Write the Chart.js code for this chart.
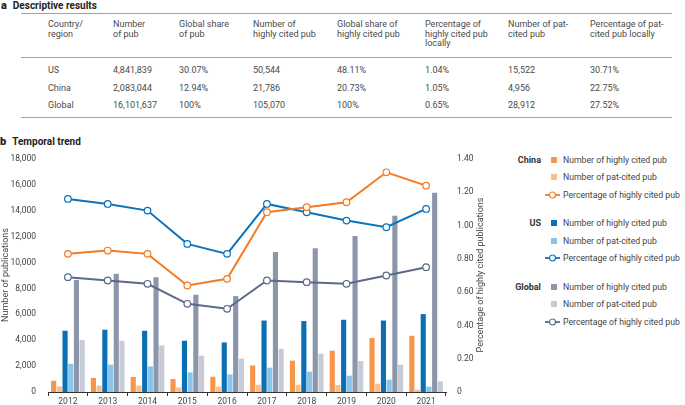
<!DOCTYPE html>
<html>
<head>
<meta charset="utf-8">
<script src="https://cdn.jsdelivr.net/npm/chart.js@4"></script>
<style>
    body { margin: 0; width: 685px; height: 405px; overflow: hidden; background: #fff;
           font-family: Roboto, sans-serif; color: #444; position: relative; }
    .abs { position: absolute; white-space: nowrap; }
    .panel-title { font-weight: 700; font-size: 10px; color: #222; }
    .panel-title b { margin-right: 6px; font-size: 11px; }
    .rule { position: absolute; left: 21px; width: 651px; height: 1.6px; background: #9aa3b5; }
    .cell { font-size: 9px; line-height: 9.7px; color: #4a4a4a; }
    .leg { font-size: 8.7px; color: #444; line-height: 12px; }
    .leg-group { font-weight: 700; color: #333; text-align: right; width: 41px; font-size: 9px; }
    .swatch { width: 6px; height: 6px; }
    .axis-title { font-size: 9px; color: #444; transform-origin: center center; text-align: center; }
    #chartBox { position: absolute; left: 0; top: 148px; width: 490px; height: 258px; }
</style>
</head>
<body>
<div class="abs panel-title" style="left:1px; top:-1px;"><b>a</b>Descriptive results</div>
<div class="rule" style="top:12.5px;"></div>
<div class="rule" style="top:56.5px;"></div>
<div class="rule" style="top:116.5px;"></div>
<div id="table"></div>

<div class="abs panel-title" style="left:0px; top:135px;"><b>b</b>Temporal trend</div>
<div id="chartBox"><canvas id="trendChart"></canvas></div>
<div class="abs axis-title" style="left:-48px; top:270px; width:106px; transform: rotate(-90deg);">Number of publications</div>
<div class="abs axis-title" style="left:400px; top:270px; width:160px; transform: rotate(-90deg);">Percentage of highly cited publications</div>
<div id="legend"></div>

<script>
// table a
const tableHeaders = [
    ['Country/', 'region'],
    ['Number', 'of pub'],
    ['Global share', 'of pub'],
    ['Number of', 'highly cited pub'],
    ['Global share of', 'highly cited pub'],
    ['Percentage of', 'highly cited pub', 'locally'],
    ['Number of pat-', 'cited pub'],
    ['Percentage of pat-', 'cited pub locally']
];
const tableRows = [
    ['US', '4,841,839', '30.07%', '50,544', '48.11%', '1.04%', '15,522', '30.71%'],
    ['China', '2,083,044', '12.94%', '21,786', '20.73%', '1.05%', '4,956', '22.75%'],
    ['Global', '16,101,637', '100%', '105,070', '100%', '0.65%', '28,912', '27.52%']
];

// chart b
const years = ['2012', '2013', '2014', '2015', '2016', '2017', '2018', '2019', '2020', '2021'];
const chinaHighlyCited = [870, 1080, 1160, 1000, 1180, 2050, 2420, 3190, 4170, 4340];
const chinaPatCited = [430, 490, 490, 350, 410, 560, 560, 540, 640, 180];
const usHighlyCited = [4730, 4810, 4730, 3960, 3830, 5520, 5480, 5580, 5520, 6020];
const usPatCited = [2180, 2110, 1980, 1510, 1360, 1880, 1570, 1260, 950, 410];
const globalHighlyCited = [8660, 9130, 8870, 7510, 7410, 10820, 11110, 12060, 13620, 15400];
const globalPatCited = [4010, 3960, 3600, 2800, 2570, 3340, 2960, 2390, 2110, 820];
const chinaPct = [0.83, 0.85, 0.83, 0.64, 0.68, 1.08, 1.11, 1.14, 1.32, 1.24];
const usPct = [1.16, 1.13, 1.09, 0.89, 0.83, 1.13, 1.08, 1.03, 0.99, 1.10];
const globalPct = [0.69, 0.67, 0.65, 0.53, 0.50, 0.67, 0.66, 0.65, 0.70, 0.75];

const leftTicks = { min: 0, max: 18000, step: 2000 };
const rightTicks = { min: 0, max: 1.4, step: 0.2 };

const legendGroups = ['China', 'US', 'Global'];
const legendItems = ['Number of highly cited pub', 'Number of pat-cited pub', 'Percentage of highly cited pub'];

const colors = {
    chinaHigh: '#f7964b', chinaPat: '#fbbf89', chinaLine: '#f47b25',
    usHigh: '#0b6fb3', usPat: '#89c4ea', usLine: '#0a73bb',
    globalHigh: '#8c96aa', globalPat: '#c6cbd7', globalLine: '#5b6a88'
};

function buildTable() {
    const colX = [48, 113, 179, 253, 337, 425, 508, 590];
    const rowY = [66, 83.6, 101.2];
    const wrap = document.getElementById('table');
    let html = '';
    tableHeaders.forEach((lines, i) => {
        html += `<div class="abs cell" style="left:${colX[i]}px; top:20px;">${lines.join('<br>')}</div>`;
    });
    tableRows.forEach((row, r) => {
        row.forEach((val, i) => {
            html += `<div class="abs cell" style="left:${colX[i]}px; top:${rowY[r]}px;">${val}</div>`;
        });
    });
    wrap.innerHTML = html;
}

function buildLegend() {
    const rowY = [[159.5, 177, 195.3], [223.3, 240.7, 258.3], [286.7, 303.7, 322.3]];
    const groupColors = [
        [colors.chinaHigh, colors.chinaPat, colors.chinaLine],
        [colors.usHigh, colors.usPat, colors.usLine],
        [colors.globalHigh, colors.globalPat, colors.globalLine]
    ];
    let html = '';
    legendGroups.forEach((group, g) => {
        html += `<div class="abs leg leg-group" style="left:500px; top:${rowY[g][0] - 6}px;">${group}</div>`;
        legendItems.forEach((label, k) => {
            const y = rowY[g][k];
            const c = groupColors[g][k];
            if (k < 2) {
                html += `<div class="abs swatch" style="left:551px; top:${y - 3}px; background:${c};"></div>`;
            } else {
                html += `<svg class="abs" style="left:544px; top:${y - 5}px;" width="18" height="10">
                    <line x1="1" y1="5" x2="16" y2="5" stroke="${c}" stroke-width="1.8"/>
                    <circle cx="8.5" cy="5" r="3" fill="#fff" stroke="${c}" stroke-width="1.2"/></svg>`;
            }
            html += `<div class="abs leg" style="left:563px; top:${y - 6}px;">${label}</div>`;
        });
    });
    document.getElementById('legend').innerHTML = html;
}

function lineSet(label, data, color) {
    return {
        type: 'line', label: label, data: data, yAxisID: 'y2', order: 0,
        borderColor: color, borderWidth: 2, pointRadius: 3.3, pointBorderWidth: 1.2,
        pointBackgroundColor: '#fff', pointBorderColor: color, tension: 0
    };
}

function barSet(label, data, color) {
    return {
        type: 'bar', label: label, data: data, yAxisID: 'y', order: 1,
        backgroundColor: color, barPercentage: 0.9, categoryPercentage: 0.86
    };
}

function drawChart() {
    const ctx = document.getElementById('trendChart').getContext('2d');
    new Chart(ctx, {
        type: 'bar',
        data: {
            labels: years,
            datasets: [
                barSet('China highly cited', chinaHighlyCited, colors.chinaHigh),
                barSet('China pat-cited', chinaPatCited, colors.chinaPat),
                barSet('US highly cited', usHighlyCited, colors.usHigh),
                barSet('US pat-cited', usPatCited, colors.usPat),
                barSet('Global highly cited', globalHighlyCited, colors.globalHigh),
                barSet('Global pat-cited', globalPatCited, colors.globalPat),
                lineSet('China %', chinaPct, colors.chinaLine),
                lineSet('US %', usPct, colors.usLine),
                lineSet('Global %', globalPct, colors.globalLine)
            ]
        },
        options: {
            responsive: true,
            maintainAspectRatio: false,
            animation: false,
            layout: { padding: { top: 11, left: 0, right: 0, bottom: 0 } },
            plugins: { legend: { display: false }, tooltip: { enabled: false } },
            scales: {
                x: {
                    grid: { drawOnChartArea: false, offset: true, tickLength: 4, color: '#333', lineWidth: 1 },
                    border: { display: true, color: '#333', width: 1 },
                    ticks: { color: '#444', font: { family: 'Roboto', size: 8.5 }, padding: 1 },
                    afterFit: s => { s.height = 14; }
                },
                y: {
                    position: 'left',
                    min: leftTicks.min, max: leftTicks.max,
                    grid: { display: false }, border: { display: false },
                    ticks: {
                        stepSize: leftTicks.step, padding: 4, color: '#444',
                        font: { family: 'Roboto', size: 8.5 },
                        callback: v => Number(v).toLocaleString('en-US')
                    },
                    afterFit: s => { s.width = 48; }
                },
                y2: {
                    position: 'right',
                    min: rightTicks.min, max: rightTicks.max,
                    grid: { display: false }, border: { display: false },
                    ticks: {
                        stepSize: rightTicks.step, padding: 3, color: '#444',
                        font: { family: 'Roboto', size: 8.5 },
                        callback: v => (Math.abs(v) < 1e-9 ? '0' : Number(v).toFixed(2))
                    },
                    afterFit: s => { s.width = 44; }
                }
            }
        }
    });
}

buildTable();
buildLegend();
drawChart();
</script>
</body>
</html>
